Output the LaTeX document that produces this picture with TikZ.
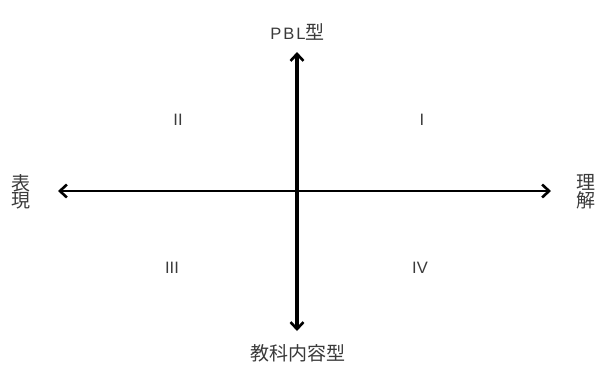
\documentclass[tikz,border=0pt]{standalone}
\usepackage{fontspec}
\setmainfont{Noto Sans CJK JP}
\newfontfamily\latinsp{Liberation Sans}[LetterSpace=12]
\newfontfamily\latin{Liberation Sans}
\usetikzlibrary{arrows.meta}
\definecolor{txt}{HTML}{3A3A3A}
\tikzset{
  axis/.style={draw=black, {Straight Barb[length=7pt,width=13pt,line width=2.6pt]}-{Straight Barb[length=7pt,width=13pt,line width=2.6pt]}},
  lbl/.style={text=txt, font=\fontsize{19pt}{16.5pt}\selectfont, inner sep=0pt, align=center},
  quad/.style={text=txt, font=\fontsize{16.5pt}{18pt}\selectfont\latin, inner sep=0pt}
}
\begin{document}
\begin{tikzpicture}[x=1pt,y=-1pt]
\useasboundingbox (0,0) rectangle (598,365);
\coordinate (top) at (297,52);
\coordinate (bot) at (297,331);
\coordinate (left) at (58,191);
\coordinate (right) at (551,191);
\draw[axis, line width=3.2pt] (bot) -- (top);
\draw[axis, line width=2pt] (left) -- (right);
\node[lbl, anchor=base] (pbl) at (297.5,39) {{\fontsize{16.5pt}{18pt}\selectfont\latinsp PBL}型};
\node[lbl] (kyoka) at (298,353) {教科内容型};
\node[lbl] (hyogen) at (21,192) {表\\現};
\node[lbl] (rikai) at (586,192) {理\\解};
\node[quad] (q2) at (178,120) {II};
\node[quad] (q1) at (422,120) {I};
\node[quad] (q3) at (172,268) {III};
\node[quad] (q4) at (420,268) {IV};
\end{tikzpicture}
\end{document}
